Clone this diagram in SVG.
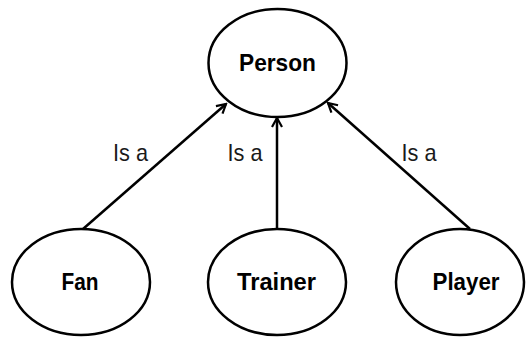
<svg xmlns="http://www.w3.org/2000/svg" width="526" height="338" viewBox="0 0 526 338">
  <style>
    .node ellipse { fill: #ffffff; stroke: #000000; stroke-width: 2.5; }
    .node text { font-family: "Liberation Sans", Arial, sans-serif; font-weight: bold; font-size: 24px; fill: #000000; text-anchor: middle; }
    .edge line { stroke: #000000; stroke-width: 2.5; }
    .label { font-family: "Liberation Sans", Arial, sans-serif; font-size: 24px; fill: #1a1a1a; text-anchor: middle; }
  </style>
  <defs>
    <marker id="open-arrow" viewBox="0 0 12 12" refX="10" refY="6" markerWidth="12" markerHeight="12" markerUnits="userSpaceOnUse" orient="auto">
      <path d="M1,1 L10,6 L1,11" fill="none" stroke="#000000" stroke-width="2.2"/>
    </marker>
  </defs>

  <g id="connectors" class="edge">
    <line x1="83" y1="229" x2="226" y2="104" marker-end="url(#open-arrow)"/>
    <line x1="277" y1="229" x2="277" y2="118" marker-end="url(#open-arrow)"/>
    <line x1="470" y1="229" x2="328" y2="103" marker-end="url(#open-arrow)"/>
    <text class="label" x="130.5" y="161" textLength="35" lengthAdjust="spacingAndGlyphs">Is a</text>
    <text class="label" x="245" y="161" textLength="35" lengthAdjust="spacingAndGlyphs">Is a</text>
    <text class="label" x="419" y="161" textLength="35" lengthAdjust="spacingAndGlyphs">Is a</text>
  </g>

  <g id="person" class="node">
    <ellipse cx="277.5" cy="63" rx="69" ry="54"/>
    <text x="277.5" y="71" textLength="77" lengthAdjust="spacingAndGlyphs">Person</text>
  </g>
  <g id="fan" class="node">
    <ellipse cx="81" cy="282" rx="69" ry="53"/>
    <text x="80" y="290" textLength="37" lengthAdjust="spacingAndGlyphs">Fan</text>
  </g>
  <g id="trainer" class="node">
    <ellipse cx="277" cy="282" rx="69" ry="53"/>
    <text x="276.5" y="289.5" textLength="79" lengthAdjust="spacingAndGlyphs">Trainer</text>
  </g>
  <g id="player" class="node">
    <ellipse cx="460" cy="282" rx="64" ry="53"/>
    <text x="466" y="290" textLength="67" lengthAdjust="spacingAndGlyphs">Player</text>
  </g>
</svg>
